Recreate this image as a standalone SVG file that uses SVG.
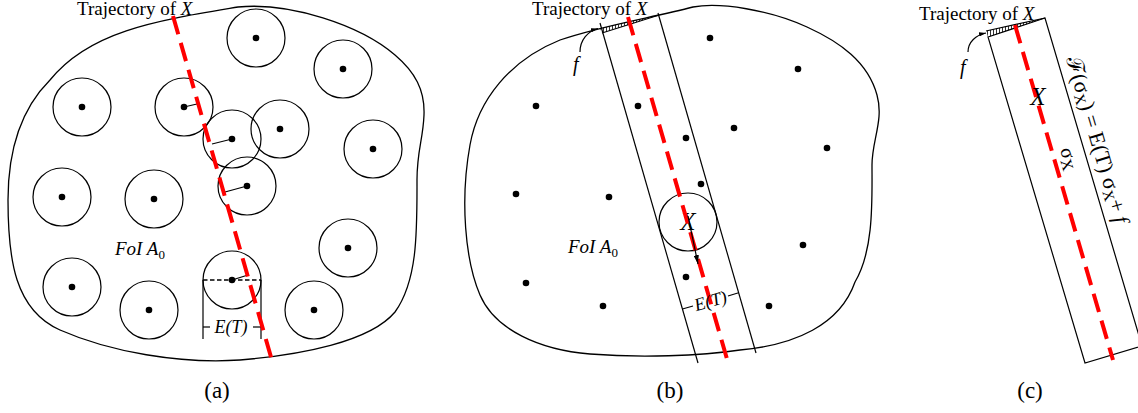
<svg xmlns="http://www.w3.org/2000/svg" width="1138" height="413" viewBox="0 0 1138 413">
<style>
.outline{fill:none;stroke:#000;stroke-width:1.3}
.circ{fill:none;stroke:#000;stroke-width:1.2}
.dot{fill:#000}
.traj{fill:none;stroke:#f00;stroke-width:4;stroke-dasharray:19 9}
.ln{fill:none;stroke:#000;stroke-width:1.2}
.lbl{font-family:"Liberation Serif","Times New Roman",serif;fill:#000}
.it{font-style:italic}
</style>
<defs>
<pattern id="hatch" width="3" height="10" patternUnits="userSpaceOnUse">
<line x1="0.5" y1="0" x2="0.5" y2="10" stroke="#000" stroke-width="0.8"/>
</pattern>
<marker id="ah" viewBox="0 0 10 6" refX="10" refY="3" markerWidth="9" markerHeight="5.4" markerUnits="userSpaceOnUse" orient="auto">
<path d="M0,0 L10,3 L0,6 z" fill="#000"/>
</marker>
<marker id="ahs" viewBox="0 0 10 6" refX="10" refY="3" markerWidth="7" markerHeight="4.2" markerUnits="userSpaceOnUse" orient="auto">
<path d="M0,0 L10,3 L0,6 z" fill="#000"/>
</marker>
</defs>

<!-- Panel (a) -->
<g id="panel-a">
<path id="foi-a" class="outline" d="M238,7 C290,2 360,25 395,55 C415,72 425,90 424,115 C423,140 417,150 417,180 C417,230 418,280 395,312 C370,342 300,355 240,360 C180,364 110,352 60,330 C15,310 8,260 8,200 C8,150 20,110 50,80 C90,30 160,20 238,7 Z"/>
<g id="sensors-a">
<circle class="circ" cx="256" cy="38" r="29"/><circle class="dot" cx="256" cy="38" r="3.3"/>
<circle class="circ" cx="343" cy="69" r="29"/><circle class="dot" cx="343" cy="69" r="3.3"/>
<circle class="circ" cx="82" cy="107" r="29"/><circle class="dot" cx="82" cy="107" r="3.3"/>
<circle class="circ" cx="184" cy="107" r="29"/><circle class="dot" cx="184" cy="107" r="3.3"/>
<circle class="circ" cx="232" cy="139" r="29"/><circle class="dot" cx="232" cy="139" r="3.3"/>
<circle class="circ" cx="280" cy="129" r="29"/><circle class="dot" cx="280" cy="129" r="3.3"/>
<circle class="circ" cx="373" cy="149" r="29"/><circle class="dot" cx="373" cy="149" r="3.3"/>
<circle class="circ" cx="247" cy="186" r="29"/><circle class="dot" cx="247" cy="186" r="3.3"/>
<circle class="circ" cx="62" cy="197" r="29"/><circle class="dot" cx="62" cy="197" r="3.3"/>
<circle class="circ" cx="154" cy="199" r="29"/><circle class="dot" cx="154" cy="199" r="3.3"/>
<circle class="circ" cx="348" cy="248" r="29"/><circle class="dot" cx="348" cy="248" r="3.3"/>
<circle class="circ" cx="72" cy="287" r="29"/><circle class="dot" cx="72" cy="287" r="3.3"/>
<circle class="circ" cx="149" cy="310" r="29"/><circle class="dot" cx="149" cy="310" r="3.3"/>
<circle class="circ" cx="232" cy="280" r="29"/><circle class="dot" cx="232" cy="280" r="3.3"/>
<circle class="circ" cx="314" cy="310" r="29"/><circle class="dot" cx="314" cy="310" r="3.3"/>
</g>
<g id="connectors-a">
<line class="ln" x1="184" y1="107" x2="197" y2="104"/>
<line class="ln" x1="232" y1="139" x2="212" y2="144"/>
<line class="ln" x1="247" y1="186" x2="225" y2="192"/>
<line class="ln" x1="232" y1="280" x2="248" y2="275"/>
<line x1="203" y1="280" x2="261" y2="280" stroke="#000" stroke-width="1.6" stroke-dasharray="4.5 2.5"/>
<line class="ln" x1="203" y1="280" x2="203" y2="339"/>
<line class="ln" x1="261" y1="280" x2="261" y2="339"/>
<line class="ln" x1="203" y1="327" x2="210" y2="327"/>
<line class="ln" x1="253" y1="327" x2="261" y2="327"/>
<line class="traj" x1="173" y1="16" x2="273" y2="364"/>
</g>
<text class="lbl" x="77" y="15" font-size="19">Trajectory of <tspan class="it">X</tspan></text>
<text class="lbl it" x="115" y="255" font-size="19">FoI A<tspan font-size="13" dy="4" font-style="normal">0</tspan></text>
<text class="lbl it" x="231" y="333" font-size="18" text-anchor="middle">E(T)</text>
<text class="lbl" x="217" y="398" font-size="23" text-anchor="middle">(a)</text>
</g>

<!-- Panel (b) -->
<g id="panel-b">
<path id="foi-b" class="outline" d="M693,7 C720,2 770,10 807,27 C840,42 868,62 877,95 C884,120 872,140 872,165 C872,200 874,250 855,282 C840,325 795,345 740,350 C700,356 640,358 590,354 C540,350 495,330 480,295 C465,260 460,200 470,145 C478,100 510,60 560,40 C600,26 650,18 693,7 Z"/>
<g id="sensors-b">
<circle class="dot" cx="710" cy="38" r="3.3"/>
<circle class="dot" cx="798" cy="69" r="3.3"/>
<circle class="dot" cx="536" cy="106" r="3.3"/>
<circle class="dot" cx="638" cy="106" r="3.3"/>
<circle class="dot" cx="734" cy="128" r="3.3"/>
<circle class="dot" cx="686" cy="138" r="3.3"/>
<circle class="dot" cx="827" cy="148" r="3.3"/>
<circle class="dot" cx="701" cy="184" r="3.3"/>
<circle class="dot" cx="516" cy="194" r="3.3"/>
<circle class="dot" cx="609" cy="197" r="3.3"/>
<circle class="dot" cx="803" cy="245" r="3.3"/>
<circle class="dot" cx="526" cy="283" r="3.3"/>
<circle class="dot" cx="686" cy="277" r="3.3"/>
<circle class="dot" cx="603" cy="306" r="3.3"/>
<circle class="dot" cx="769" cy="306" r="3.3"/>
</g>
<g id="target-b">
<circle class="circ" cx="688" cy="222" r="29"/>
<text class="lbl it" x="688" y="230" font-size="25" text-anchor="middle">X</text>
</g>
<g id="connectors-b">
<polygon points="600,28.5 602,33 658.5,15.2" fill="url(#hatch)" stroke="none"/>
<line class="ln" x1="602" y1="33" x2="658.5" y2="15.2"/>
<line class="ln" x1="600" y1="23" x2="698" y2="363"/>
<line class="ln" x1="658" y1="13" x2="756" y2="353"/>
<line class="traj" x1="628" y1="17" x2="727" y2="359"/>
<line class="ln" x1="688" y1="216" x2="698" y2="264" marker-end="url(#ah)"/>
<line class="ln" x1="682.4" y1="309" x2="693" y2="306"/>
<line class="ln" x1="728" y1="296" x2="738.6" y2="292.8"/>
<path class="ln" d="M580,52 C580,40 588,31 598,28.5" marker-end="url(#ahs)"/>
</g>
<text class="lbl" x="532" y="15" font-size="19">Trajectory of <tspan class="it">X</tspan></text>
<text class="lbl it" x="573" y="71" font-size="20">f</text>
<text class="lbl it" x="568" y="253" font-size="19">FoI A<tspan font-size="13" dy="4" font-style="normal">0</tspan></text>
<text class="lbl it" transform="translate(710.5,300.9) rotate(-16.1)" x="0" y="6" font-size="18" text-anchor="middle">E(T)</text>
<text class="lbl" x="670" y="398" font-size="23" text-anchor="middle">(b)</text>
</g>

<!-- Panel (c) -->
<g id="panel-c">
<g id="strip-c">
<polygon points="986,31 988,37 1045,18" fill="url(#hatch)" stroke="none"/>
<line class="ln" x1="986" y1="31" x2="1045" y2="18"/>
<polygon class="ln" points="988,37 1045,18 1142,346 1085,363"/>
<line class="traj" x1="1015" y1="25" x2="1113" y2="360"/>
<path class="ln" d="M968,52 C968,42 976,35 986,33" marker-end="url(#ahs)"/>
</g>
<text class="lbl" x="919" y="20" font-size="19">Trajectory of <tspan class="it">X</tspan></text>
<text class="lbl it" x="960" y="74" font-size="20">f</text>
<text class="lbl it" x="1038" y="105" font-size="25" text-anchor="middle">X</text>
<text class="lbl" transform="translate(1060,149.6) rotate(73.5)" x="0" y="0" font-size="20">σ<tspan font-size="16" dy="3">X</tspan></text>
<text class="lbl" transform="translate(1066,59) rotate(73.5)" x="0" y="0" font-size="22">ℱ(σ<tspan font-size="15" dy="3">X</tspan><tspan dy="-3">) = E(T) σ</tspan><tspan font-size="15" dy="3">X</tspan><tspan dy="-3">+ </tspan><tspan class="it">f</tspan></text>
<text class="lbl" x="1030" y="398" font-size="23" text-anchor="middle">(c)</text>
</g>
</svg>
